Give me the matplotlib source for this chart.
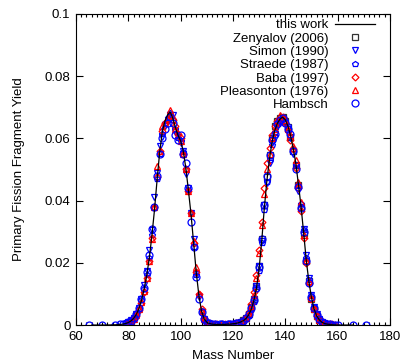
import numpy as np
import matplotlib
matplotlib.use('Agg')
import matplotlib.pyplot as plt
from matplotlib.ticker import MultipleLocator

plt.rcParams['font.family'] = ['Liberation Sans', 'DejaVu Sans']
plt.rcParams['font.size'] = 9.5

# this work (calculated curve), A = 66..166
a_calc = np.arange(66, 167)
y_calc = [0.0, 0.0, 0.0, 0.0, 0.0, 0.00001, 0.00002, 0.00003, 0.00005, 0.00008,
          0.00012, 0.0002, 0.0003, 0.0005, 0.0008, 0.0013, 0.0021, 0.0033, 0.0051, 0.0078,
          0.0112, 0.0157, 0.0212, 0.0285, 0.0368, 0.0465, 0.0555, 0.0620, 0.0655, 0.0675,
          0.0685, 0.0665, 0.0635, 0.0610, 0.0592, 0.0560, 0.0505, 0.0432, 0.0355, 0.0262,
          0.0168, 0.0095, 0.0045, 0.0020, 0.0009, 0.0005, 0.0003, 0.0002, 0.0002, 0.0002,
          0.0002, 0.0002, 0.0003, 0.0003, 0.0004, 0.0005, 0.0007, 0.0010, 0.0014, 0.0021,
          0.0032, 0.0050, 0.0078, 0.0118, 0.0180, 0.0268, 0.0375, 0.0465, 0.0535, 0.0590,
          0.0625, 0.0648, 0.0662, 0.0668, 0.0660, 0.0640, 0.0610, 0.0570, 0.0522, 0.0455,
          0.0385, 0.0300, 0.0212, 0.0142, 0.0090, 0.0052, 0.0030, 0.0017, 0.0009, 0.0005,
          0.0003, 0.0002, 0.0001, 0.00005, 0.00003, 0.00001, 0.0, 0.0, 0.0, 0.0, 0.0]

# Zenyalov (2006), heavy peak only
a_zen = np.arange(122, 159)
y_zen = [0.0008, 0.0011, 0.0016, 0.0024, 0.0036, 0.0058, 0.0085, 0.0125, 0.0190, 0.0275,
         0.0385, 0.0475, 0.0545, 0.0600, 0.0640, 0.0655, 0.0665, 0.0670, 0.0655, 0.0635,
         0.0605, 0.0560, 0.0515, 0.0450, 0.0380, 0.0295, 0.0205, 0.0140, 0.0085, 0.0050,
         0.0028, 0.0015, 0.0008, 0.0004, 0.0002, 0.0001, 0.0001]

# Simon (1990)
a_sim = np.concatenate([np.arange(80, 111), np.arange(125, 156)])
y_sim = [0.0009, 0.0015, 0.0024, 0.0036, 0.0056, 0.0085, 0.0130, 0.0175, 0.0240, 0.0305,
         0.0410, 0.0490, 0.0575, 0.0605, 0.0640, 0.0660, 0.0670, 0.0675, 0.0620, 0.0605,
         0.0585, 0.0560, 0.0485, 0.0440, 0.0360, 0.0275, 0.0165, 0.0090, 0.0040, 0.0018,
         0.0007,
         0.0020, 0.0030, 0.0052, 0.0085, 0.0125, 0.0190, 0.0270, 0.0385, 0.0455, 0.0520,
         0.0585, 0.0600, 0.0635, 0.0650, 0.0660, 0.0645, 0.0630, 0.0600, 0.0550, 0.0510,
         0.0430, 0.0380, 0.0310, 0.0225, 0.0150, 0.0095, 0.0058, 0.0034, 0.0019, 0.0010,
         0.0005]

# Straede (1987)
a_str = np.concatenate([np.arange(79, 111), np.arange(124, 158)])
y_str = [0.0005, 0.0008, 0.0014, 0.0022, 0.0034, 0.0052, 0.0080, 0.0115, 0.0160, 0.0215,
         0.0290, 0.0375, 0.0470, 0.0550, 0.0615, 0.0650, 0.0665, 0.0680, 0.0660, 0.0630,
         0.0600, 0.0590, 0.0555, 0.0500, 0.0435, 0.0360, 0.0250, 0.0160, 0.0095, 0.0045,
         0.0020, 0.0009,
         0.0012, 0.0020, 0.0030, 0.0048, 0.0075, 0.0115, 0.0175, 0.0265, 0.0370, 0.0460,
         0.0530, 0.0580, 0.0620, 0.0645, 0.0660, 0.0665, 0.0655, 0.0640, 0.0605, 0.0565,
         0.0515, 0.0450, 0.0390, 0.0305, 0.0215, 0.0145, 0.0092, 0.0054, 0.0031, 0.0017,
         0.0009, 0.0005, 0.0003, 0.0002]

# Baba (1997)
a_bab = np.concatenate([np.arange(80, 110), np.arange(110, 124), np.arange(124, 160)])
y_bab = [0.0007, 0.0012, 0.0019, 0.0030, 0.0048, 0.0072, 0.0105, 0.0150, 0.0205, 0.0280,
         0.0380, 0.0475, 0.0560, 0.0625, 0.0650, 0.0660, 0.0670, 0.0660, 0.0640, 0.0615,
         0.0600, 0.0550, 0.0500, 0.0430, 0.0360, 0.0265, 0.0170, 0.0100, 0.0050, 0.0022,
         0.0008, 0.0005, 0.0003, 0.0002, 0.0002, 0.0001, 0.0002, 0.0002, 0.0003, 0.0003,
         0.0004, 0.0005, 0.0007, 0.0010,
         0.0016, 0.0026, 0.0042, 0.0068, 0.0105, 0.0160, 0.0240, 0.0330, 0.0440, 0.0520,
         0.0570, 0.0610, 0.0640, 0.0655, 0.0660, 0.0670, 0.0650, 0.0625, 0.0595, 0.0565,
         0.0505, 0.0440, 0.0365, 0.0280, 0.0200, 0.0135, 0.0085, 0.0050, 0.0030, 0.0018,
         0.0011, 0.0006, 0.0004, 0.0003, 0.0002, 0.0001]

# Pleasonton (1976)
a_ple = np.concatenate([np.arange(80, 110), np.arange(124, 158)])
y_ple = [0.0008, 0.0013, 0.0020, 0.0032, 0.0050, 0.0075, 0.0110, 0.0150, 0.0205, 0.0275,
         0.0380, 0.0510, 0.0560, 0.0640, 0.0650, 0.0665, 0.0690, 0.0670, 0.0630, 0.0610,
         0.0590, 0.0550, 0.0500, 0.0430, 0.0360, 0.0270, 0.0185, 0.0100, 0.0045, 0.0020,
         0.0015, 0.0024, 0.0038, 0.0062, 0.0095, 0.0150, 0.0230, 0.0320, 0.0420, 0.0500,
         0.0550, 0.0600, 0.0630, 0.0660, 0.0675, 0.0665, 0.0660, 0.0630, 0.0610, 0.0575,
         0.0530, 0.0460, 0.0395, 0.0290, 0.0210, 0.0140, 0.0088, 0.0052, 0.0030, 0.0017,
         0.0009, 0.0005, 0.0003, 0.0002]

# Hambsch
a_ham = np.concatenate([[65, 70, 75], np.arange(77, 124), np.arange(124, 161), [166, 171]])
y_ham = [0.0, 0.0, 0.0,
         0.0002, 0.0003, 0.0005, 0.0009, 0.0014, 0.0023, 0.0036, 0.0055, 0.0085, 0.0120,
         0.0170, 0.0225, 0.0310, 0.0380, 0.0480, 0.0550, 0.0600, 0.0630, 0.0650, 0.0670,
         0.0650, 0.0610, 0.0595, 0.0610, 0.0550, 0.0520, 0.0440, 0.0330, 0.0250, 0.0155,
         0.0085, 0.0042, 0.0018, 0.0008, 0.0005, 0.0003, 0.0002, 0.0001, 0.0002, 0.0002,
         0.0001, 0.0003, 0.0002, 0.0003, 0.0005, 0.0006, 0.0009,
         0.0013, 0.0022, 0.0034, 0.0055, 0.0082, 0.0120, 0.0185, 0.0275, 0.0385, 0.0480,
         0.0545, 0.0595, 0.0615, 0.0645, 0.0660, 0.0665, 0.0650, 0.0630, 0.0615, 0.0560,
         0.0500, 0.0445, 0.0375, 0.0300, 0.0205, 0.0135, 0.0090, 0.0055, 0.0032, 0.0018,
         0.0010, 0.0006, 0.0004, 0.0002, 0.0001, 0.0001, 0.0,
         0.0, 0.0]

fig = plt.figure(figsize=(4.04, 3.64), dpi=100)
ax = fig.add_axes([0.188, 0.107, 0.777, 0.855])

blue = '#0000ff'
red = '#ff0000'
ms = 4.5
ax.plot(a_calc, y_calc, '-', color='black', lw=0.9, label='this work', zorder=5)
ax.plot(a_zen, y_zen, 's', mfc='none', mec='#333333', ms=ms, mew=0.9, label='Zenyalov (2006)')
ax.plot(a_sim, y_sim, 'v', mfc='none', mec=blue, ms=ms, mew=0.9, label='Simon (1990)')
ax.plot(a_str, y_str, 'p', mfc='none', mec=blue, ms=3.8, mew=0.9, label='Straede (1987)')
ax.plot(a_bab, y_bab, 'D', mfc='none', mec=red, ms=3.5, mew=0.9, label='Baba (1997)')
ax.plot(a_ple, y_ple, '^', mfc='none', mec=red, ms=ms, mew=0.9, label='Pleasonton (1976)')
ax.plot(a_ham, y_ham, 'o', mfc='none', mec=blue, ms=5, mew=0.9, label='Hambsch')

ax.set_xlim(60, 180)
ax.set_ylim(0, 0.1)
ax.xaxis.set_major_locator(MultipleLocator(20))
ax.xaxis.set_minor_locator(MultipleLocator(2))
ax.set_yticks([0, 0.02, 0.04, 0.06, 0.08, 0.1])
ax.set_yticklabels(['0', '0.02', '0.04', '0.06', '0.08', '0.1'])
ax.tick_params(which='both', direction='in', top=True, right=True)
ax.tick_params(which='major', length=5, width=0.8, pad=4)
ax.tick_params(which='minor', length=2.5, width=0.8)
ax.tick_params(axis='y', which='minor', left=False, right=False)

ax.set_xlabel('Mass Number', labelpad=5)
ax.set_ylabel('Primary Fission Fragment Yield', labelpad=14)

leg = ax.legend(loc='upper right', bbox_to_anchor=(0.968, 1.0), borderaxespad=0,
                frameon=False, markerfirst=False,
                handlelength=3.0, handletextpad=0.5, labelspacing=0.08)

fig.savefig('out.png', dpi=100)
